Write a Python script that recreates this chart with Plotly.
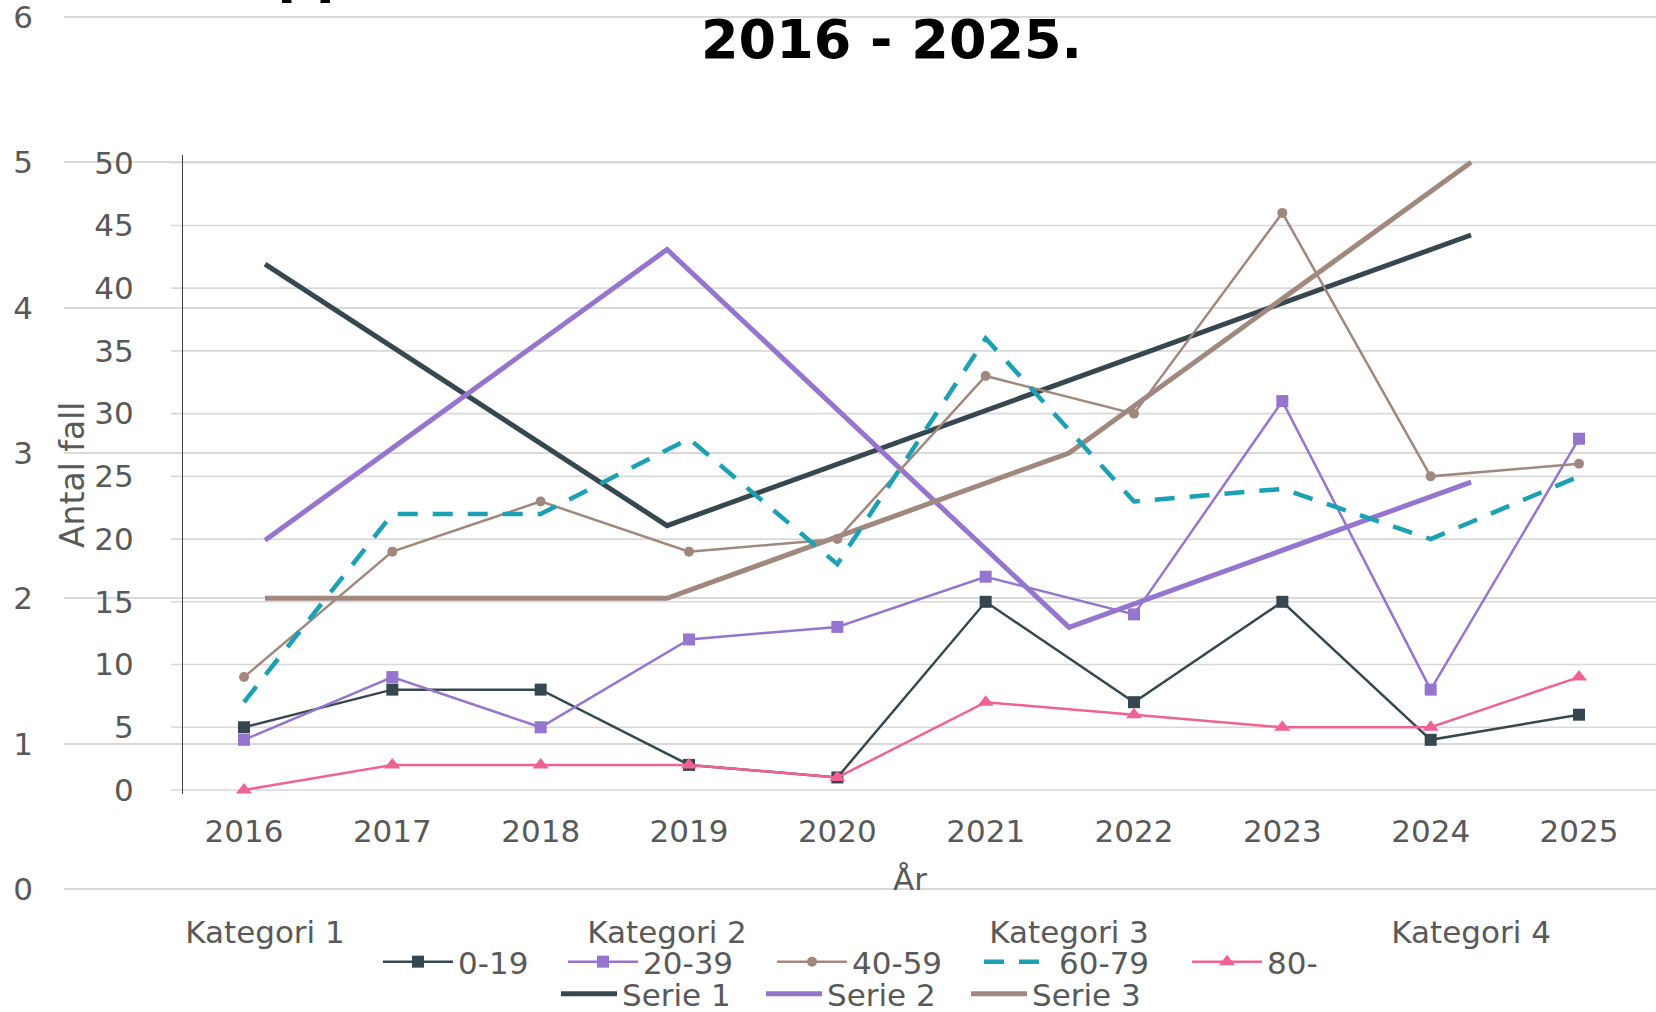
import plotly.graph_objects as go

W, H = 1656, 1012

# ---- data: background chart (categories) ----
categories = ["Kategori 1", "Kategori 2", "Kategori 3", "Kategori 4"]
serie1 = [4.3, 2.5, 3.5, 4.5]
serie2 = [2.4, 4.4, 1.8, 2.8]
serie3 = [2, 2, 3, 5]

# ---- data: foreground chart (years) ----
years = [2016, 2017, 2018, 2019, 2020, 2021, 2022, 2023, 2024, 2025]
g0_19 = [5, 8, 8, 2, 1, 15, 7, 15, 4, 6]
g20_39 = [4, 9, 5, 12, 13, 17, 14, 31, 8, 28]
g40_59 = [9, 19, 23, 19, 20, 33, 30, 46, 25, 26]
g60_79 = [7, 22, 22, 28, 18, 36, 23, 24, 20, 25]
g80 = [0, 2, 2, 2, 1, 7, 6, 5, 5, 9]
y2_ticks = [0, 5, 10, 15, 20, 25, 30, 35, 40, 45, 50]
y1_ticks = [0, 1, 2, 3, 4, 5, 6]

title_line1 = "Fall uppdelade efter ålder, i hela landet under åren"
title_line2 = "2016 - 2025."

C_DARK = "#37474f"
C_PURPLE = "#9575cd"
C_BROWN = "#a1887f"
C_TEAL = "#1ba1b3"
C_PINK = "#f06292"
GRID = "#d9d9d9"
TXT = "#595959"
FONT = "DejaVu Sans"
FS = 31


def px(x):
    return x / W


def py(y):
    return 1 - y / H


# background y axis: 0 at 889 px, 6 at 17 px -> pad range a little so end gridlines show
u1 = (889 - 17) / 6.0
y1_lo, y1_hi = -0.05, 6.06
y1_dom = [py(889 + 0.05 * u1), py(17 - 0.06 * u1)]

fig = go.Figure()

# background series (subplot 1)
for name, vals, col in [("Serie 1", serie1, C_DARK), ("Serie 2", serie2, C_PURPLE), ("Serie 3", serie3, C_BROWN)]:
    fig.add_trace(go.Scatter(x=categories, y=vals, name=name, mode="lines",
                             line=dict(color=col, width=5), xaxis="x", yaxis="y",
                             legend="legend2", legendwidth=134))

# foreground series (subplot 2)
fig.add_trace(go.Scatter(x=years, y=g0_19, name="0-19", mode="lines+markers",
                         line=dict(color=C_DARK, width=2.5),
                         marker=dict(symbol="square", size=12, color=C_DARK),
                         xaxis="x2", yaxis="y2", legend="legend", legendwidth=100))
fig.add_trace(go.Scatter(x=years, y=g20_39, name="20-39", mode="lines+markers",
                         line=dict(color=C_PURPLE, width=2.5),
                         marker=dict(symbol="square", size=12, color=C_PURPLE),
                         xaxis="x2", yaxis="y2", legend="legend", legendwidth=124))
fig.add_trace(go.Scatter(x=years, y=g40_59, name="40-59", mode="lines+markers",
                         line=dict(color=C_BROWN, width=2.5),
                         marker=dict(symbol="circle", size=10, color=C_BROWN),
                         xaxis="x2", yaxis="y2", legend="legend", legendwidth=122))
fig.add_trace(go.Scatter(x=years, y=g60_79, name="60-79", mode="lines",
                         line=dict(color=C_TEAL, width=4.5, dash="20px,15px"),
                         xaxis="x2", yaxis="y2", legend="legend", legendwidth=123))
fig.add_trace(go.Scatter(x=years, y=g80, name="80-", mode="lines+markers",
                         line=dict(color=C_PINK, width=2.5),
                         marker=dict(symbol="triangle-up", size=14, color=C_PINK),
                         xaxis="x2", yaxis="y2", legend="legend", legendwidth=70))

# gridlines of the foreground chart, drawn underneath everything
shapes = []
for v in y2_ticks:
    shapes.append(dict(type="line", xref="paper", yref="y2", x0=px(171), x1=1,
                       y0=v, y1=v, line=dict(color=GRID, width=1.6), layer="below"))

fig.update_layout(
    width=W, height=H, autosize=False,
    margin=dict(l=0, r=0, t=0, b=0, pad=0, autoexpand=False),
    paper_bgcolor="white", plot_bgcolor="rgba(0,0,0,0)",
    font=dict(family=FONT, size=FS, color=TXT),
    shapes=shapes,
    xaxis=dict(domain=[px(64), 1], type="category", categoryorder="array",
               categoryarray=categories, range=[-0.5, 3.46], showgrid=False,
               zeroline=False, showline=False, ticks="", automargin=False,
               tickfont=dict(size=FS, color=TXT, family=FONT), ticklabelstandoff=15,
               ticklabeloverflow="allow", anchor="y", fixedrange=True),
    yaxis=dict(domain=y1_dom, range=[y1_lo, y1_hi], tickvals=y1_ticks,
               showgrid=True, gridcolor=GRID, gridwidth=1.6, zeroline=False,
               showline=False, ticks="", automargin=False,
               tickfont=dict(size=FS, color=TXT, family=FONT), ticklabelstandoff=30,
               ticklabeloverflow="allow", anchor="x", fixedrange=True),
    xaxis2=dict(domain=[px(183), 1], range=[2015.5888, 2025.519], tickvals=years,
                showgrid=False, zeroline=False, showline=False, ticks="",
                automargin=False, tickfont=dict(size=FS, color=TXT, family=FONT),
                ticklabelstandoff=16, ticklabeloverflow="allow", anchor="y2",
                fixedrange=True),
    yaxis2=dict(domain=[py(794), py(155)], range=[-0.319, 50.614], tickvals=y2_ticks,
                showgrid=False, zeroline=False, showline=True, linecolor="#404040",
                linewidth=1.2, ticks="", automargin=False,
                tickfont=dict(size=FS, color=TXT, family=FONT), ticklabelstandoff=42,
                ticklabeloverflow="allow", anchor="x2", fixedrange=True),
    legend=dict(orientation="h", xref="container", yref="container",
                x=px(378), xanchor="left", y=py(962), yanchor="middle",
                font=dict(size=FS, color=TXT, family=FONT), bgcolor="rgba(0,0,0,0)",
                itemwidth=70, tracegroupgap=0),
    legend2=dict(orientation="h", xref="container", yref="container",
                 x=px(556), xanchor="left", y=py(994), yanchor="middle",
                 font=dict(size=FS, color=TXT, family=FONT), bgcolor="rgba(0,0,0,0)",
                 itemwidth=56, tracegroupgap=0),
    showlegend=True,
    annotations=[
        dict(text=title_line1, xref="paper", yref="paper", x=px(892), y=py(-26),
             xanchor="center", yanchor="middle", showarrow=False,
             font=dict(family=FONT, size=54, color="black", weight="bold")),
        dict(text=title_line2, xref="paper", yref="paper", x=px(892), y=py(39),
             xanchor="center", yanchor="middle", showarrow=False,
             font=dict(family=FONT, size=54, color="black", weight="bold")),
        dict(text="Antal fall", xref="paper", yref="paper", x=px(72), y=py(475),
             xanchor="center", yanchor="middle", textangle=-90, showarrow=False,
             font=dict(family=FONT, size=33, color=TXT)),
        dict(text="År", xref="paper", yref="paper", x=px(910), y=py(879),
             xanchor="center", yanchor="middle", showarrow=False,
             font=dict(family=FONT, size=FS, color=TXT)),
    ],
)

fig.write_html("out.html", post_script="document.body.style.margin='0';",
               config={"displayModeBar": False})
